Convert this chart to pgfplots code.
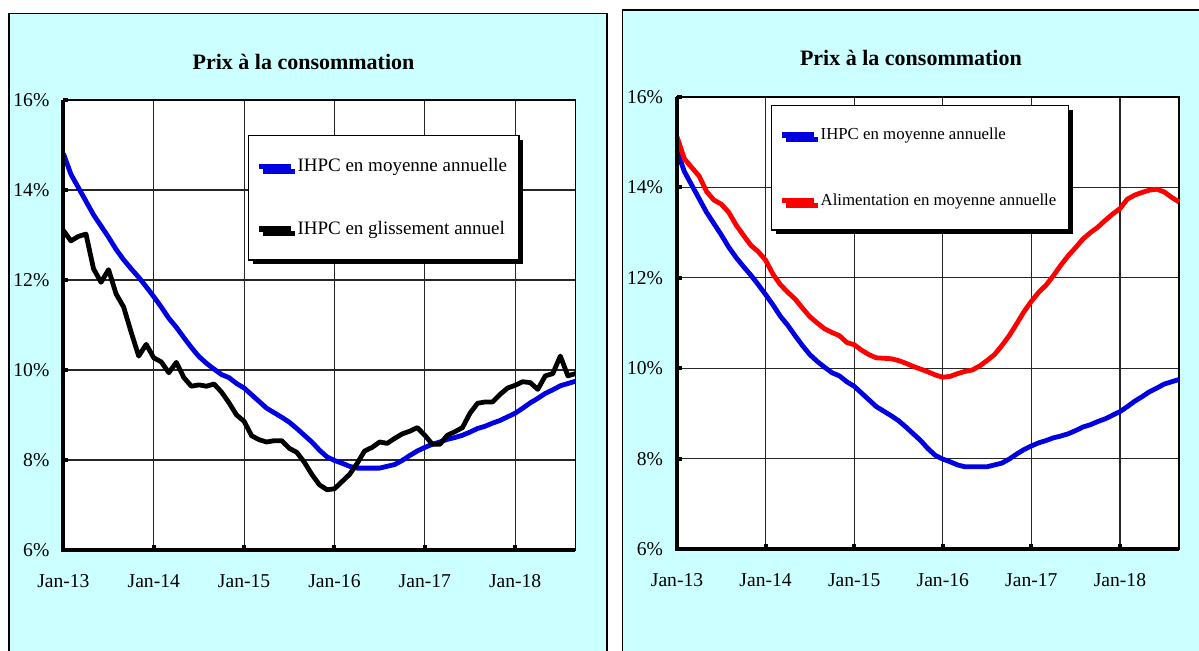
\documentclass[border=0pt]{standalone}
\usepackage{fontspec}
\setmainfont{Liberation Serif}
\usepackage{pgfplots}
\usepackage{pgfplotstable}
\pgfplotsset{compat=1.18}
\usetikzlibrary{shadows}

\definecolor{panelbg}{RGB}{204,255,255}
\definecolor{ihpcblue}{RGB}{0,0,225}
\definecolor{alimred}{RGB}{255,0,0}

% monthly, 0 = Jan-13
\pgfplotstableread{
m  ihpc  gliss alim
0  14.81 13.10 15.12
1  14.35 12.87 14.63
2  14.05 12.97 14.44
3  13.75 13.02 14.25
4  13.45 12.25 13.91
5  13.20 11.95 13.72
6  12.95 12.23 13.63
7  12.68 11.69 13.45
8  12.45 11.40 13.17
9  12.25 10.84 12.94
10 12.06 10.31 12.72
11 11.85 10.57 12.58
12 11.63 10.27 12.39
13 11.40 10.18 12.08
14 11.15 9.94  11.85
15 10.95 10.17 11.68
16 10.72 9.83  11.53
17 10.50 9.64  11.33
18 10.30 9.67  11.14
19 10.15 9.64  11.00
20 10.02 9.69  10.87
21 9.90  9.51  10.79
22 9.83  9.27  10.72
23 9.70  9.00  10.57
24 9.60  8.86  10.52
25 9.45  8.54  10.40
26 9.30  8.45  10.30
27 9.15  8.40  10.23
28 9.05  8.43  10.22
29 8.95  8.43  10.21
30 8.84  8.26  10.17
31 8.70  8.17  10.11
32 8.55  7.95  10.04
33 8.40  7.68  9.98
34 8.22  7.45  9.92
35 8.07  7.34  9.85
36 7.99  7.36  9.80
37 7.93  7.52  9.82
38 7.86  7.68  9.88
39 7.82  7.92  9.93
40 7.82  8.20  9.96
41 7.82  8.28  10.05
42 7.82  8.40  10.17
43 7.86  8.37  10.30
44 7.90  8.48  10.50
45 7.99  8.58  10.72
46 8.10  8.64  10.98
47 8.20  8.72  11.25
48 8.28  8.55  11.48
49 8.35  8.35  11.68
50 8.40  8.35  11.84
51 8.46  8.55  12.05
52 8.50  8.63  12.28
53 8.55  8.72  12.49
54 8.62  9.04  12.67
55 8.70  9.26  12.86
56 8.75  9.29  13.00
57 8.82  9.29  13.12
58 8.88  9.46  13.27
59 8.96  9.60  13.41
60 9.04  9.66  13.53
61 9.15  9.74  13.74
62 9.27  9.72  13.83
63 9.37  9.57  13.89
64 9.48  9.87  13.94
65 9.56  9.92  13.96
66 9.65  10.31 13.90
67 9.70  9.87  13.78
68 9.75  9.92  13.68
}\prix

\pgfplotsset{
  panel/.style={
    scale only axis,
    xmin=0, xmax=68, ymin=6, ymax=16,
    xtick={0,12,24,36,48,60},
    xticklabels={Jan-13,Jan-14,Jan-15,Jan-16,Jan-17,Jan-18},
    ytick={6,8,10,12,14,16},
    yticklabels={6\%,8\%,10\%,12\%,14\%,16\%},
    grid=major,
    major grid style={black!85, line width=0.6pt},
    axis line style={black, line width=0.6pt},
    axis background/.style={fill=white},
    tick align=inside,
    xtick pos=left, ytick pos=left,
    major tick length=2.5pt,
    every tick/.style={black, line width=2pt},
    tick label style={font=\fontsize{9.8}{11}\selectfont, black},
    yticklabel style={xshift=-3.5pt},
    xticklabel style={yshift=-8.5pt},
    title style={font=\fontsize{11}{13}\selectfont\bfseries, anchor=center},
    clip=false,
    legend cell align=left,
    legend image code/.code={\draw[##1, line width=2.6pt] (0pt,0pt) -- (16pt,0pt);},
    legend style={anchor=north west, draw=black, line width=0.6pt, fill=white,
      drop shadow={shadow xshift=2.2pt, shadow yshift=-2.2pt, fill=black, opacity=1},
      inner xsep=4pt, inner ysep=9.5pt, row sep=19pt},
  },
}

\begin{document}
\begin{tikzpicture}
\path[use as bounding box] (0,0) rectangle (599.5pt,-325pt);
\begin{scope}
\clip (0,0) rectangle (599.5pt,-325pt);
\fill[white] (0,0) rectangle (599.5pt,-325pt);
\filldraw[fill=panelbg, draw=black, line width=0.6pt] (4.5pt,-6.8pt) rectangle (303.5pt,-340pt);
\filldraw[fill=panelbg, draw=black, line width=0.6pt] (311.3pt,-5pt) rectangle (610pt,-340pt);

\begin{axis}[panel,
    at={(31.7pt,-275pt)}, anchor=south west,
    width=256pt, height=225pt,
    title={Prix à la consommation},
    title style={at={(0.469,1)}, yshift=13pt},
    legend style={at={(0.36,0.922)}, font=\fontsize{9.5}{11}\selectfont},
  ]
  \addplot[ihpcblue, line width=2.4pt, line join=round] table[x=m, y=ihpc] {\prix};
  \addplot[black, line width=2.4pt, line join=round] table[x=m, y=gliss] {\prix};
  \legend{IHPC en moyenne annuelle, IHPC en glissement annuel}
  \draw[black, line width=2pt] (rel axis cs:0,1) -- (rel axis cs:0,0) -- (rel axis cs:1,0);
\end{axis}

\begin{axis}[panel,
    at={(338.5pt,-274.5pt)}, anchor=south west,
    width=251pt, height=226pt,
    title={Prix à la consommation},
    title style={at={(0.466,1)}, yshift=13.5pt},
    legend style={at={(0.187,0.982)}, font=\fontsize{8.4}{10}\selectfont,
      inner ysep=9pt, row sep=21.5pt},
  ]
  \addplot[ihpcblue, line width=2.4pt, line join=round] table[x=m, y=ihpc] {\prix};
  \addplot[alimred, line width=2.4pt, line join=round] table[x=m, y=alim] {\prix};
  \legend{IHPC en moyenne annuelle, Alimentation en moyenne annuelle}
  \draw[black, line width=2pt] (rel axis cs:0,1) -- (rel axis cs:0,0) -- (rel axis cs:1,0);
\end{axis}
\end{scope}
\end{tikzpicture}
\end{document}
